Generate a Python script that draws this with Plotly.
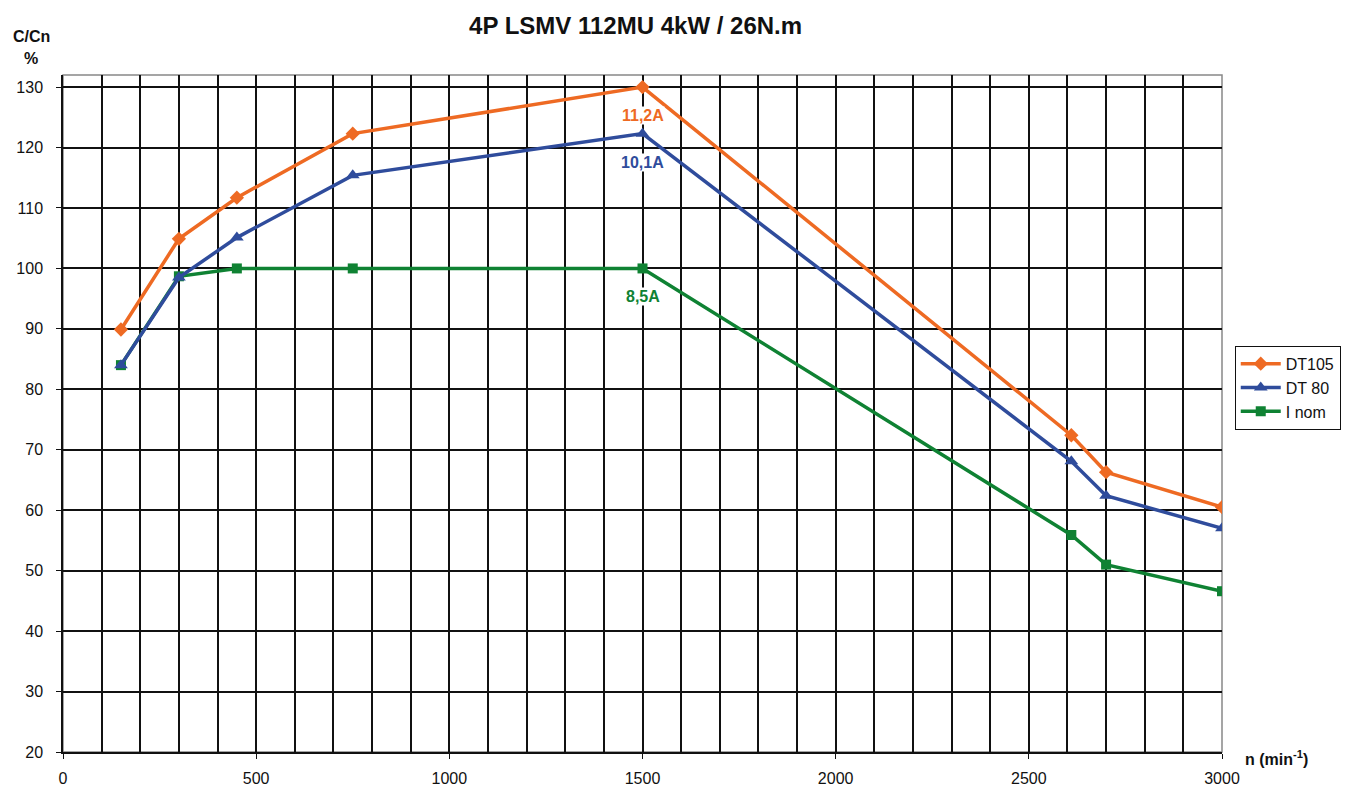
import plotly.graph_objects as go

speed = [150, 300, 450, 750, 1500, 2610, 2700, 3000]
dt105 = [89.9, 104.9, 111.7, 122.3, 130.0, 72.4, 66.3, 60.5]
dt80 = [84.0, 98.5, 105.1, 115.4, 122.3, 68.1, 62.4, 57.0]
inom = [84.0, 98.7, 100.0, 100.0, 100.0, 55.9, 51.0, 46.6]

names = ["DT105", "DT 80", "I nom"]
colors = ["#EE6A23", "#2F4C9C", "#0F8233"]
currents = ["11,2A", "10,1A", "8,5A"]
label_y = [125.3, 117.6, 95.3]

FONT = "Liberation Sans, Arial"

fig = go.Figure()
fig.add_trace(go.Scatter(x=speed, y=inom, name=names[2], mode="lines+markers",
                         line=dict(color=colors[2], width=3.5),
                         marker=dict(symbol="square", size=10, color=colors[2])))
fig.add_trace(go.Scatter(x=speed, y=dt80, name=names[1], mode="lines+markers",
                         line=dict(color=colors[1], width=3.5),
                         marker=dict(symbol="triangle-up", size=12, color=colors[1])))
fig.add_trace(go.Scatter(x=speed, y=dt105, name=names[0], mode="lines+markers",
                         line=dict(color=colors[0], width=3.5),
                         marker=dict(symbol="diamond", size=11, color=colors[0])))

for txt, yy, c in zip(currents, label_y, colors):
    fig.add_annotation(x=1500, y=yy, text="<b>%s</b>" % txt, showarrow=False,
                       bgcolor="white", borderpad=0,
                       font=dict(family=FONT, size=16, color=c))

fig.add_annotation(xref="paper", yref="paper", x=-0.0276, y=1.0576, xanchor="center", yanchor="middle",
                   text="<b>C/Cn</b>", showarrow=False,
                   font=dict(family=FONT, size=16, color="#111"))
fig.add_annotation(xref="paper", yref="paper", x=-0.0276, y=1.0251, xanchor="center", yanchor="middle",
                   text="<b>%</b>", showarrow=False,
                   font=dict(family=FONT, size=16, color="#111"))
fig.add_annotation(xref="paper", yref="paper", x=1.018, y=-0.009, xanchor="left", yanchor="middle",
                   text="<b>n (min<sup>-1</sup>)</b>", showarrow=False,
                   font=dict(family=FONT, size=16, color="#111"))

# gray border of plot area
fig.add_shape(type="rect", xref="paper", yref="paper", x0=0, y0=0, x1=1, y1=1,
              line=dict(color="#888", width=1.5), layer="below")

fig.update_layout(
    width=1361, height=792,
    margin=dict(l=63, r=139, t=75, b=40, autoexpand=False),
    paper_bgcolor="white", plot_bgcolor="white",
    title=dict(text="<b>4P LSMV 112MU 4kW / 26N.m</b>", x=0.467, xanchor="center", y=0.968,
               yanchor="middle",
               font=dict(family=FONT, size=24, color="#111")),
    font=dict(family=FONT, size=16, color="#111"),
    showlegend=True,
    legend=dict(x=1.011, y=0.538, xanchor="left", yanchor="middle", traceorder="reversed",
                bordercolor="#111", borderwidth=1, bgcolor="white",
                font=dict(size=16), itemwidth=40, tracegroupgap=0),
    xaxis=dict(range=[0, 3000], dtick=500, tick0=0, showgrid=True, gridcolor="#111", gridwidth=1.5,
               minor=dict(dtick=100, showgrid=True, gridcolor="#111", gridwidth=1.5),
               ticks="outside", ticklen=5, tickcolor="#111", showline=True, linecolor="#111", linewidth=1.5,
               zeroline=False, tickfont=dict(size=16), ticklabelstandoff=6, automargin=False),
    yaxis=dict(range=[20, 132], tickvals=list(range(20, 131, 10)), showgrid=True, gridcolor="#111", gridwidth=1.5,
               ticks="outside", ticklen=5, tickcolor="#111", showline=True, linecolor="#111", linewidth=1.5,
               zeroline=False, tickfont=dict(size=16), ticklabelstandoff=10, automargin=False),
)

fig.write_html("out.html", config={"displayModeBar": False},
               post_script="document.body.style.margin='0';")
